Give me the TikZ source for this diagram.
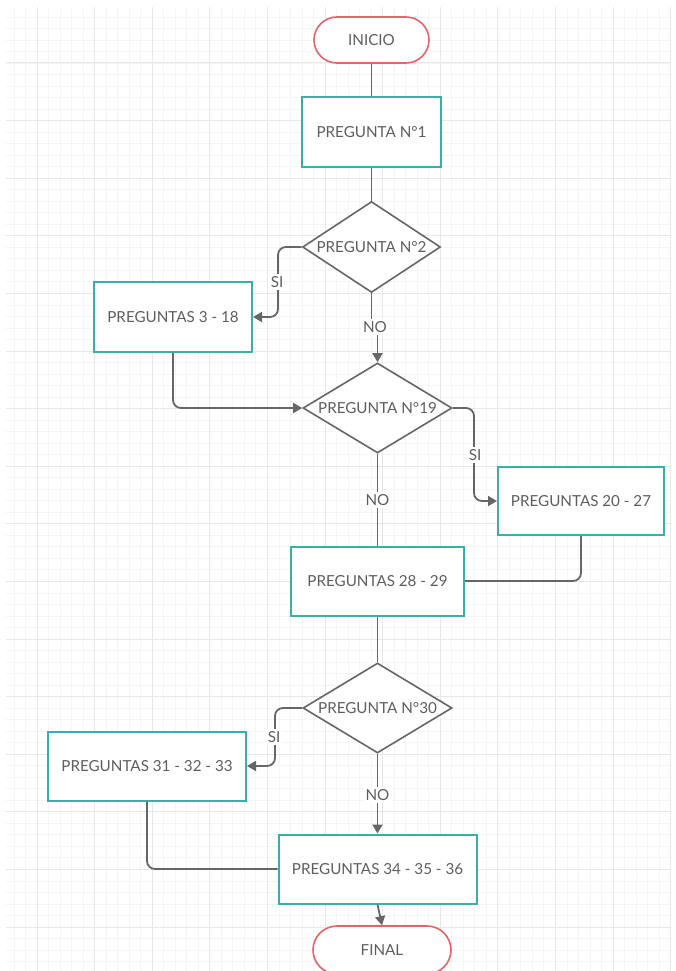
\documentclass[tikz,border=0pt]{standalone}
\usepackage{fontspec}
\setmainfont{Lato}
\usetikzlibrary{shapes.geometric,arrows.meta,calc}
\definecolor{tealc}{HTML}{3AAFA9}
\definecolor{redc}{HTML}{E5636B}
\definecolor{linec}{HTML}{666666}
\definecolor{txtc}{HTML}{5E5E5E}
\definecolor{gridmin}{HTML}{F5F5F5}
\definecolor{gridmaj}{HTML}{E8E8E8}
\begin{document}
\begin{tikzpicture}[x=1pt,y=-1pt,
  font=\fontsize{15.2}{18}\selectfont, text=txtc,
  term/.style={draw=redc, line width=1.6pt, rounded corners=23pt, fill=white,
    minimum width=115pt, minimum height=46pt, inner sep=0pt},
  qbox/.style={draw=tealc, line width=2pt, fill=white, minimum height=69pt, inner sep=0pt},
  dec/.style={diamond, draw=linec, line width=1.6pt, fill=white, inner sep=0pt,
    minimum width=149pt, minimum height=90pt},
  conn/.style={draw=linec, line width=1.8pt, rounded corners=8pt},
  arr/.style={conn, -{Triangle[length=9pt,width=10pt]}},
  lbl/.style={fill=white, inner sep=2pt, text=txtc}]
\useasboundingbox (0,0) rectangle (676,971);
\fill[white] (0,0) rectangle (676,971);
\begin{scope}
\clip (6,8) rectangle (671,971);
\foreach \k in {0,...,58} {\draw[gridmin, line width=0.8pt] ({2.44+11.52*\k},0) -- ({2.44+11.52*\k},971);}
\foreach \k in {0,...,84} {\draw[gridmin, line width=0.8pt] (0,{5.4+11.52*\k}) -- (676,{5.4+11.52*\k});}
\foreach \k in {0,...,12} {\draw[gridmaj, line width=1pt] ({-20.6+57.6*\k},0) -- ({-20.6+57.6*\k},971);}
\foreach \k in {0,...,17} {\draw[gridmaj, line width=1pt] (0,{5.4+57.6*\k}) -- (676,{5.4+57.6*\k});}
\end{scope}

% nodes
\node[term] (inicio) at (371.5,40) {INICIO};
\node[qbox, minimum width=139pt, minimum height=70pt] (p1) at (371.5,132) {PREGUNTA N°1};
\node[dec, minimum width=138pt, minimum height=91pt] (d2) at (371.5,247) {\makebox[0pt]{PREGUNTA N°2}};
\node[qbox, minimum width=158pt, minimum height=70pt] (b318) at (173,317) {PREGUNTAS 3 - 18};
\node[dec] (d19) at (377.5,408) {\makebox[0pt]{PREGUNTA N°19}};
\node[qbox, minimum width=166pt, minimum height=68pt] (b2027) at (581,501) {PREGUNTAS 20 - 27};
\node[qbox, minimum width=173pt] (b2829) at (377.5,581) {PREGUNTAS 28 - 29};
\node[dec] (d30) at (377.5,708) {\makebox[0pt]{PREGUNTA N°30}};
\node[qbox, minimum width=198pt] (b3133) at (147,766) {PREGUNTAS 31 - 32 - 33};
\node[qbox, minimum width=198pt] (b3436) at (377.5,869) {PREGUNTAS 34 - 35 - 36};
\node[term, minimum width=138pt, minimum height=48pt, rounded corners=24pt] (final) at (382,950) {FINAL};

% label positions
\coordinate (si1) at (277,282);
\coordinate (no1) at (375,327);
\coordinate (si2) at (475,455);
\coordinate (no2) at (377.5,500);
\coordinate (si3) at (274,737);
\coordinate (no3) at (377.5,795);

% connectors
\draw[conn] (inicio) -- (p1);
\draw[conn] (p1) -- (d2);
\draw[arr] (d2.west) -| ($(b318.east)+(25,0)$) -- (b318.east);
\draw[arr, rounded corners=0pt] (d2.south) |- (no1) -| (d19.north);
\draw[arr] (b318.south) |- (d19.west);
\draw[arr] (d19.east) -| ($(b2027.west)+(-23,0)$) -- (b2027.west);
\draw[conn] (d19.south) -- (b2829.north);
\draw[conn] (b2027.south) |- (b2829.east);
\draw[conn] (b2829.south) -- (d30.north);
\draw[arr] (d30.west) -| ($(b3133.east)+(28,0)$) -- (b3133.east);
\draw[arr] (d30.south) -- (b3436.north);
\draw[conn] (b3133.south) |- (b3436.west);
\draw[arr] (b3436.south) -- (final.north);

% labels
\node[lbl] (lsi1) at (si1) {SI};
\node[lbl] (lno1) at (no1) {NO};
\node[lbl] (lsi2) at (si2) {SI};
\node[lbl] (lno2) at (no2) {NO};
\node[lbl] (lsi3) at (si3) {SI};
\node[lbl] (lno3) at (no3) {NO};
\end{tikzpicture}
\end{document}
